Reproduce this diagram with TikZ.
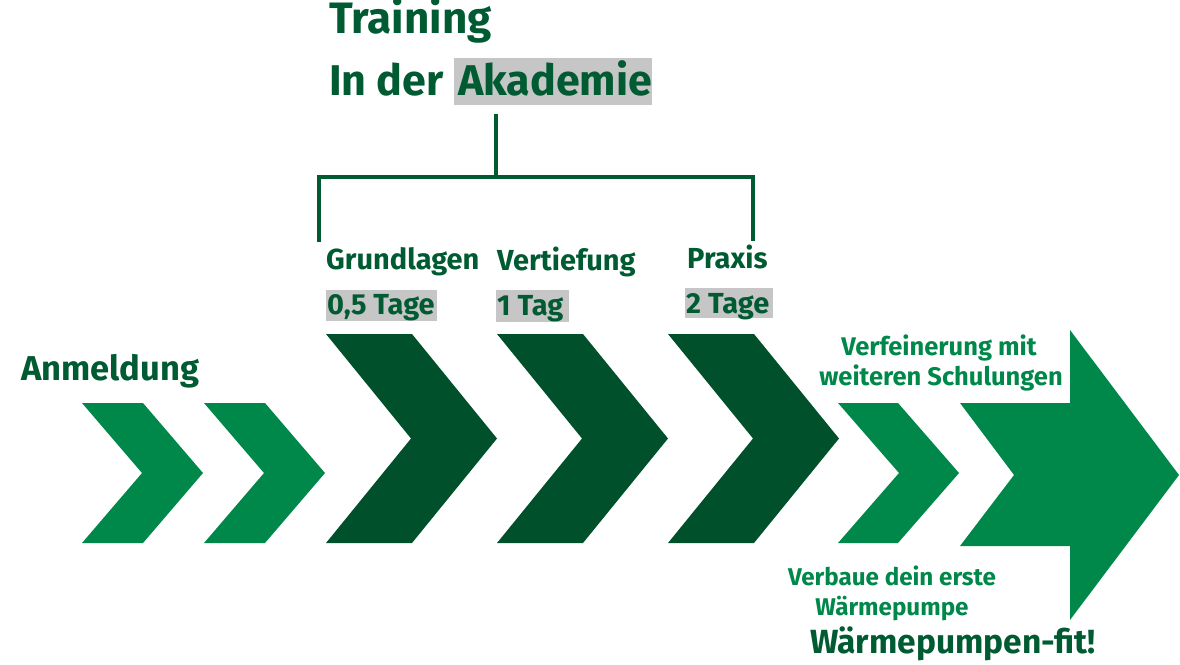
\documentclass[tikz,border=0pt]{standalone}
\usepackage{fontspec}
\setmainfont{Fira Sans}
\definecolor{lgreen}{HTML}{00884A}
\definecolor{dgreen}{HTML}{00512B}
\definecolor{tgreen}{HTML}{005A32}
\definecolor{hgray}{HTML}{C6C6C6}
\newcommand{\fs}[1]{\fontsize{#1}{#1}\selectfont\bfseries}
\tikzset{
  lbl/.style={anchor=base west, inner sep=0pt, text=tgreen},
  lblc/.style={anchor=base, inner sep=0pt, text=lgreen},
  hl/.style={fill=hgray, draw=none},
  chevlight/.style={fill=lgreen, draw=none},
  chevdark/.style={fill=dgreen, draw=none},
  bracket/.style={draw=tgreen, line width=3.2pt}
}
\newcommand{\chev}[6]{% style, x, top, bottom, width, depth
  \fill[#1] (#2,#3) -- ({#2+#5},#3) -- ({#2+#5+#6},{(#3+#4)/2}) -- ({#2+#5},#4) -- (#2,#4) -- ({#2+#6},{(#3+#4)/2}) -- cycle;}
\begin{document}
\begin{tikzpicture}[x=1pt,y=-1pt]
\useasboundingbox (0,0) rectangle (1180,664);
% highlight boxes
\fill[hl] (454,58) rectangle (652,105);
\fill[hl] (326,290) rectangle (437,321);
\fill[hl] (496,290) rectangle (569,322);
\fill[hl] (685,288) rectangle (773,318);
% titles
\node[lbl] (train) at (329,33) {\fs{44}Training};
\node[lbl] (inder) at (329,95) {\fs{43}In der};
\node[lbl] (akad) at (458,95) {\fs{43}Akademie};
% bracket
\coordinate (btop) at (496,114);
\coordinate (bmid) at (496,177);
\coordinate (bl) at (319,177);
\coordinate (br) at (753,177);
\coordinate (bld) at (319,242);
\coordinate (brd) at (753,241);
\draw[bracket] (btop) -- (bmid);
\draw[bracket] (bld) -- (bl) -- (br) -- (brd);
% stage labels
\node[lbl] (grund) at (326,269) {\fs{29}Grundlagen};
\node[lbl] (vert) at (497,270) {\fs{29}Vertiefung};
\node[lbl] (prax) at (687,268) {\fs{29}Praxis};
\node[lbl] (d1) at (327,314) {\fs{29}0,5 Tage};
\node[lbl] (d2) at (497,315) {\fs{29}1 Tag};
\node[lbl] (d3) at (686,313) {\fs{29}2 Tage};
\node[lbl] (anm) at (21,380) {\fs{34.5}Anmeldung};
% chevrons
\chev{chevlight}{82}{403}{543}{61}{60}
\chev{chevlight}{204}{403}{543}{61}{60}
\chev{chevdark}{326}{334}{543}{86}{85}
\chev{chevdark}{497}{334}{543}{86}{85}
\chev{chevdark}{668}{334}{543}{86}{85}
\chev{chevlight}{838}{403}{543}{60}{61}
% big arrow
\fill[chevlight] (960,403) -- (1070,403) -- (1070,330) -- (1179,475) -- (1070,620) -- (1070,546) -- (960,546) -- (1014,475) -- cycle;
% right texts
\node[lblc] (verf1) at (939,355) {\fs{25.5}Verfeinerung mit};
\node[lblc] (verf2) at (941,385) {\fs{25.5}weiteren Schulungen};
\node[lblc] (verb1) at (892,585) {\fs{24.2}Verbaue dein erste};
\node[lblc] (verb2) at (892,615) {\fs{24.2}Wärmepumpe};
\node[lbl] (fit) at (810,653) {\fs{33.5}Wärmepumpen-fit!};
\end{tikzpicture}
\end{document}
